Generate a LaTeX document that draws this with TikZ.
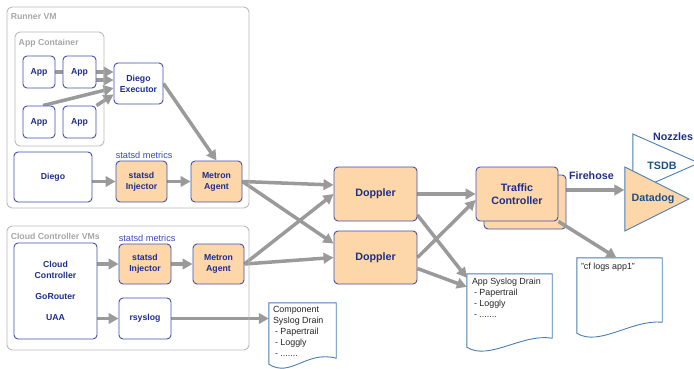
\documentclass[tikz,border=0pt]{standalone}
\usepackage{fontspec}
\setmainfont{Liberation Sans}
\usetikzlibrary{arrows.meta,shapes.geometric,backgrounds}
\definecolor{peach}{HTML}{FDD7AA}
\definecolor{boxblue}{HTML}{4450AA}
\definecolor{navy}{HTML}{1F2D8C}
\definecolor{metricblue}{HTML}{3A48B8}
\definecolor{docblue}{HTML}{4A7DB5}
\definecolor{tsdbblue}{HTML}{1F4F86}
\definecolor{flowgrey}{HTML}{9A9A9A}
\definecolor{vmgrey}{HTML}{B8B8B8}
\definecolor{titlegrey}{HTML}{A6A6A6}
\newcommand{\docoutline}[2]{%
  \draw[draw=docblue, line width=0.9pt, fill=white]
    ([yshift=#2pt]#1.south east) -- (#1.north east) -- (#1.north west) -- (#1.south west)
    .. controls ([shift={(22pt,-14pt)}]#1.south west) and ([shift={(-30pt,14pt)}]#1.south east)
    .. ([yshift=#2pt]#1.south east) -- cycle;}
\begin{document}
\begin{tikzpicture}[x=1pt, y=-1pt,
  comp/.style={draw=boxblue, fill=white, rounded corners=4pt, line width=0.9pt, text=navy, font=\fontsize{8.7}{11}\selectfont\bfseries, align=center, inner sep=0pt},
  agent/.style={comp, fill=peach},
  bigagent/.style={agent, font=\fontsize{10.7}{13}\selectfont\bfseries},
  vm/.style={draw=vmgrey, rounded corners=5pt, line width=0.9pt, inner sep=0pt},
  vmtitle/.style={anchor=north west, inner sep=0pt, xshift=4pt, yshift=-7pt, text=titlegrey, font=\fontsize{8.7}{10}\selectfont\bfseries},
  metrics/.style={anchor=south west, inner sep=0pt, yshift=2pt, text=metricblue, font=\fontsize{9.2}{10}\selectfont},
  drain/.style={inner sep=0pt},
  draintext/.style={anchor=north west, inner sep=0pt, align=left, text=black!85, font=\fontsize{8.9}{11}\selectfont},
  flow/.style={draw=flowgrey, line width=3.5pt, -{Triangle[length=10pt,width=10.5pt]}},
  nozzle/.style={isosceles triangle, isosceles triangle stretches, draw=docblue, line width=0.9pt, inner sep=0pt, anchor=apex},
  nozzletext/.style={inner sep=0pt, text=tsdbblue, font=\fontsize{10.7}{13}\selectfont\bfseries}]
\useasboundingbox (0,0) rectangle (694,369);
\node[vm, minimum width=242pt, minimum height=201pt, label={[vmtitle]north west:Runner VM}] (runner) at (128,107.5) {};
\node[vm, minimum width=89pt, minimum height=114pt, label={[vmtitle]north west:App Container}] (container) at (59.5,89) {};
\node[vm, minimum width=242pt, minimum height=124pt, label={[vmtitle]north west:Cloud Controller VMs}] (ccvms) at (128,288) {};
\node[comp, minimum width=32pt, minimum height=32pt] (app1) at (39,72) {App};
\node[comp, minimum width=33pt, minimum height=32pt] (app2) at (79.5,72) {App};
\node[comp, minimum width=32pt, minimum height=32pt] (app3) at (39,122) {App};
\node[comp, minimum width=33pt, minimum height=32pt] (app4) at (79.5,122) {App};
\node[comp, minimum width=49pt, minimum height=41pt] (executor) at (138.5,83.5) {Diego\\Executor};
\node[comp, minimum width=78pt, minimum height=50pt] (diego) at (53,177) {Diego};
\node[agent, minimum width=51pt, minimum height=41pt, label={[metrics]north west:statsd metrics}] (injector1) at (141.5,181.5) {statsd\\Injector};
\node[agent, minimum width=51pt, minimum height=41pt] (metron1) at (216.5,181.5) {Metron\\Agent};
\node[comp, minimum width=83pt, minimum height=96pt] (cc) at (55.5,291) {Cloud\\Controller\\[10pt]GoRouter\\[10pt]UAA};
\node[agent, minimum width=52pt, minimum height=40pt, label={[metrics]north west:statsd metrics}] (injector2) at (145,264) {statsd\\Injector};
\node[agent, minimum width=51pt, minimum height=40pt] (metron2) at (218.5,264) {Metron\\Agent};
\node[comp, minimum width=52pt, minimum height=41pt] (rsyslog) at (145,318.5) {rsyslog};
\node[bigagent, minimum width=83pt, minimum height=54pt] (doppler1) at (375.5,194) {Doppler};
\node[bigagent, minimum width=83pt, minimum height=53pt] (doppler2) at (375.5,257.5) {Doppler};
\node[bigagent, minimum width=82pt, minimum height=54pt] (tcback) at (525,202) {};
\node[bigagent, minimum width=82pt, minimum height=54pt] (tc) at (517,194) {Traffic\\Controller};
\node[nozzle, fill=white, minimum width=58pt, minimum height=66pt] (tsdb) at (700,163) {};
\node[nozzletext] (tsdbtext) at ([shift={(-38pt,-3pt)}]tsdb.apex) {TSDB};
\node[nozzle, fill=peach, minimum width=64pt, minimum height=64pt] (datadog) at (690,199) {};
\node[nozzletext] (datadogtext) at ([xshift=-37pt]datadog.apex) {Datadog};
\node[anchor=west, inner sep=0pt, text=navy, font=\fontsize{10.7}{13}\selectfont\bfseries] (nozzles) at (653,137) {Nozzles};
\node[drain, minimum width=67pt, minimum height=61pt] (compdrain) at (302.5,333.5) {};
\docoutline{compdrain}{6}
\node[draintext] (comptext) at ([shift={(4pt,-3pt)}]compdrain.north west) {Component\\Syslog Drain\\\hspace{2pt}- Papertrail\\\hspace{2pt}- Loggly\\\hspace{2pt}- .......};
\node[drain, minimum width=85pt, minimum height=73pt] (appdrain) at (509.5,310.5) {};
\docoutline{appdrain}{9}
\node[draintext] (apptext) at ([shift={(5pt,-4pt)}]appdrain.north west) {App Syslog Drain\\\hspace{2pt}- Papertrail\\\hspace{2pt}- Loggly\\\hspace{2pt}- .......};
\node[drain, minimum width=85pt, minimum height=75pt] (cfdrain) at (619.5,295.5) {};
\docoutline{cfdrain}{11}
\node[draintext] (cftext) at ([shift={(4pt,-5pt)}]cfdrain.north west) {"cf logs app1"};
\coordinate (app2out) at ([yshift=-8pt]app2.east);
\coordinate (fire) at ([yshift=4pt]tc.east);
\begin{scope}[on background layer]
\draw[flow] (app1.east) -- (app1.east -| executor.west);
\draw[flow] (app2out) -- (app2out -| executor.west);
\draw[flow] ([xshift=4pt]app3.north) -- ([yshift=-4.5pt]executor.west);
\draw[flow] (app4.north east) -- ([yshift=-11pt]executor.west);
\draw[flow] (executor.east) -- (metron1.north);
\draw[flow] (diego.east |- injector1.west) -- (injector1.west);
\draw[flow] (injector1) -- (metron1);
\draw[flow] (cc.east |- injector2.west) -- (injector2.west);
\draw[flow] (injector2) -- (metron2);
\draw[flow] (cc.east |- rsyslog.west) -- (rsyslog.west);
\draw[flow] (rsyslog.east) -- (rsyslog.east -| compdrain.west);
\draw[flow] (metron1.east) -- ([yshift=9pt]doppler1.west);
\draw[flow] (metron1.east) -- ([yshift=14pt]doppler2.west);
\draw[flow] (metron2.east) -- (doppler1.west);
\draw[flow] (metron2.east) -- (doppler2.west);
\draw[flow] (doppler1.east) -- (tc.west);
\draw[flow] (doppler2.east) -- ([yshift=-6pt]tc.west);
\draw[flow] ([yshift=-21pt]doppler1.east) -- ([yshift=-4pt]appdrain.north west);
\draw[flow] ([yshift=-11pt]doppler2.east) -- ([yshift=-13pt]appdrain.north west);
\draw[flow] (fire) -- (fire -| datadog.west) node[midway, above=9pt, inner sep=0pt, text=navy, font=\fontsize{10.7}{13}\selectfont\bfseries] {Firehose};
\end{scope}
\draw[flow] (tc.south east) -- ([xshift=-3pt]cfdrain.north);
\end{tikzpicture}
\end{document}
